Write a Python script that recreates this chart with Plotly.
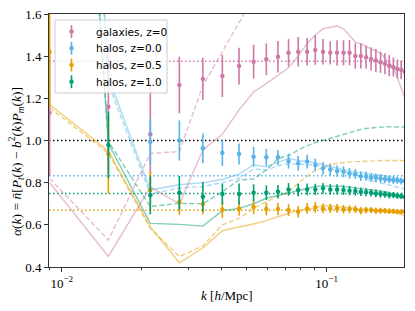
import plotly.graph_objects as go

# ---------------- data ----------------
k = [0.0090, 0.0150, 0.0216, 0.0278, 0.0341, 0.0404, 0.0467, 0.0530, 0.0592, 0.0655,
     0.0718, 0.0781, 0.0844, 0.0906, 0.0969, 0.1032, 0.1095, 0.1158, 0.1220, 0.1283,
     0.1346, 0.1409, 0.1472, 0.1534, 0.1597, 0.1660, 0.1723, 0.1786, 0.1848, 0.1911, 0.1974]

labels = ["galaxies, z=0", "halos, z=0.0", "halos, z=0.5", "halos, z=1.0"]

gal = [1.132, 1.16, 1.03, 1.263, 1.292, 1.306, 1.353, 1.374, 1.385, 1.397,
       1.416, 1.421, 1.421, 1.429, 1.421, 1.416, 1.416, 1.416, 1.416, 1.401,
       1.401, 1.395, 1.387, 1.379, 1.371, 1.364, 1.355, 1.348, 1.339, 1.335, 1.326]
gal_err = [0.30, 0.30, 0.24, 0.134, 0.10, 0.10, 0.087, 0.08, 0.075, 0.075,
           0.065, 0.07, 0.065, 0.07, 0.06, 0.055, 0.06, 0.06, 0.06, 0.06,
           0.06, 0.055, 0.055, 0.055, 0.05, 0.05, 0.05, 0.045, 0.045, 0.045, 0.045]

h00 = [3.5, 2.2, 0.994, 1.0, 0.963, 0.942, 0.936, 0.923, 0.92, 0.92,
       0.902, 0.892, 0.90, 0.884, 0.868, 0.863, 0.855, 0.852, 0.844, 0.841,
       0.831, 0.831, 0.825, 0.823, 0.82, 0.817, 0.815, 0.812, 0.812, 0.808, 0.808]
h00_err = [0.8, 0.4, 0.11, 0.095, 0.07, 0.063, 0.05, 0.047, 0.04, 0.035,
           0.035, 0.035, 0.033, 0.03, 0.03, 0.028, 0.027, 0.026, 0.025, 0.024,
           0.023, 0.022, 0.021, 0.02, 0.02, 0.019, 0.018, 0.018, 0.017, 0.017, 0.016]

h05 = [1.42, 0.936, 0.765, 0.707, 0.699, 0.673, 0.678, 0.685, 0.675, 0.675,
       0.67, 0.662, 0.678, 0.683, 0.678, 0.678, 0.678, 0.674, 0.674, 0.674,
       0.667, 0.67, 0.67, 0.667, 0.667, 0.667, 0.665, 0.665, 0.662, 0.662, 0.662]
h05_err = [0.26, 0.187, 0.09, 0.06, 0.05, 0.04, 0.035, 0.035, 0.03, 0.03,
           0.028, 0.027, 0.026, 0.025, 0.023, 0.022, 0.021, 0.02, 0.019, 0.018,
           0.017, 0.016, 0.015, 0.015, 0.014, 0.013, 0.013, 0.012, 0.012, 0.011, 0.011]

h10 = [3.0, 0.979, 0.74, 0.752, 0.733, 0.746, 0.746, 0.752, 0.752, 0.757,
       0.768, 0.765, 0.768, 0.768, 0.773, 0.768, 0.768, 0.765, 0.762, 0.76,
       0.757, 0.754, 0.752, 0.749, 0.746, 0.745, 0.741, 0.741, 0.738, 0.736, 0.733]
h10_err = [0.6, 0.158, 0.09, 0.08, 0.07, 0.05, 0.05, 0.04, 0.035, 0.032,
           0.03, 0.03, 0.028, 0.027, 0.026, 0.025, 0.024, 0.023, 0.022, 0.021,
           0.02, 0.019, 0.018, 0.018, 0.017, 0.016, 0.016, 0.015, 0.015, 0.014, 0.014]

gal_solid = [0.80, 0.45, 0.78, 0.70, 0.955, 1.03, 1.145, 1.23, 1.27, 1.31,
             1.345, 1.40, 1.46, 1.50, 1.53, 1.537, 1.543, 1.53, 1.50, 1.467,
             1.458, 1.448, 1.434, 1.424, 1.415, 1.39, 1.37, 1.345, 1.30, 1.25, 1.20]
gal_dashed = [0.82, 0.528, 0.939, 0.947, 1.26, 1.42, 1.553, 1.68, 1.75, 1.80,
              1.85, 1.88, 1.90, 1.92, 1.93, 1.94, 1.95, 1.95, 1.95, 1.95,
              1.95, 1.95, 1.95, 1.95, 1.95, 1.95, 1.95, 1.95, 1.95, 1.95, 1.95]

h00_solid = [6.0, 1.30, 0.765, 0.79, 0.80, 0.815, 0.84, 0.885, 0.875, 0.895,
             0.915, 0.905, 0.90, 0.895, 0.885, 0.878, 0.87, 0.862, 0.856, 0.85,
             0.846, 0.843, 0.84, 0.838, 0.836, 0.833, 0.83, 0.825, 0.82, 0.815, 0.81]
h00_dashed = [5.8, 1.27, 0.745, 0.775, 0.782, 0.80, 0.82, 0.865, 0.86, 0.88,
              0.89, 0.888, 0.886, 0.884, 0.877, 0.868, 0.862, 0.853, 0.845, 0.838,
              0.83, 0.82, 0.81, 0.805, 0.80, 0.795, 0.79, 0.785, 0.78, 0.775, 0.77]

h05_solid = [1.17, 0.95, 0.59, 0.42, 0.49, 0.572, 0.59, 0.604, 0.62, 0.64,
             0.655, 0.67, 0.675, 0.68, 0.693, 0.69, 0.689, 0.686, 0.682, 0.678,
             0.675, 0.672, 0.67, 0.668, 0.666, 0.664, 0.662, 0.66, 0.656, 0.648, 0.64]
h05_dashed = [1.155, 0.94, 0.583, 0.449, 0.50, 0.60, 0.631, 0.678, 0.71, 0.735,
              0.757, 0.797, 0.83, 0.86, 0.87, 0.885, 0.892, 0.896, 0.899, 0.90,
              0.90, 0.902, 0.903, 0.904, 0.905, 0.905, 0.905, 0.905, 0.905, 0.905, 0.905]

h10_solid = [5.0, 0.985, 0.607, 0.602, 0.594, 0.667, 0.678, 0.70, 0.726, 0.74,
             0.75, 0.765, 0.775, 0.782, 0.785, 0.785, 0.784, 0.782, 0.779, 0.776,
             0.773, 0.77, 0.767, 0.764, 0.76, 0.757, 0.753, 0.748, 0.742, 0.735, 0.728]
h10_dashed = [5.2, 0.995, 0.687, 0.702, 0.70, 0.757, 0.813, 0.817, 0.86, 0.915,
              0.928, 0.955, 0.975, 0.99, 1.0, 1.01, 1.02, 1.03, 1.04, 1.048,
              1.053, 1.057, 1.06, 1.062, 1.064, 1.065, 1.065, 1.065, 1.064, 1.064, 1.064]

levels = [1.376, 0.833, 0.669, 0.749]   # dotted reference levels per tracer
unity = 1.0

yticks = [0.4, 0.6, 0.8, 1.0, 1.2, 1.4, 1.6]
xticks = [0.01, 0.1]
xticklabels = ["10<sup>\u22122</sup>", "10<sup>\u22121</sup>"]
xminor = [0.009, 0.02, 0.03, 0.04, 0.05, 0.06, 0.07, 0.08, 0.09, 0.2]

# ---------------- styling / layout ----------------
W, H = 415, 311
ML, MR, MT, MB = 49, 11, 14, 44
PW, PH = W - ML - MR, H - MT - MB


def px(xp):
    return (xp - ML) / PW


def py(yp):
    return (H - MB - yp) / PH


colors = ["#CC79A7", "#56B4E9", "#E69F00", "#009E73"]
light = ["rgba(204,121,167,0.5)", "rgba(86,180,233,0.5)",
         "rgba(230,159,0,0.5)", "rgba(0,158,115,0.5)"]

series = [gal, h00, h05, h10]
errs = [gal_err, h00_err, h05_err, h10_err]
solids = [gal_solid, h00_solid, h05_solid, h10_solid]
dashes = [gal_dashed, h00_dashed, h05_dashed, h10_dashed]

fig = go.Figure()

for i in range(4):
    fig.add_trace(go.Scatter(x=k, y=solids[i], mode="lines", showlegend=False,
                             line=dict(color=light[i], width=1.4), hoverinfo="skip"))
    fig.add_trace(go.Scatter(x=k, y=dashes[i], mode="lines", showlegend=False,
                             line=dict(color=light[i], width=1.4, dash="5px,2.5px"),
                             hoverinfo="skip"))

for i in range(4):
    fig.add_trace(go.Scatter(
        x=k, y=series[i], mode="markers", name=labels[i], showlegend=False,
        marker=dict(color=colors[i], size=4.5, symbol="circle"),
        error_y=dict(type="data", array=errs[i], visible=True,
                     color=colors[i], thickness=1.6, width=0)))

shapes = []
for lv, c in zip(levels + [unity], colors + ["black"]):
    shapes.append(dict(type="line", xref="x domain", yref="y", x0=0, x1=1,
                       y0=lv, y1=lv, layer="below",
                       line=dict(color=c, width=1.5, dash="1.5px,2.5px")))

# legend box (drawn like matplotlib's: marker with error bar + label)
shapes.append(dict(type="rect", xref="paper", yref="paper",
                   x0=px(55), x1=px(167), y0=py(93), y1=py(20), layer="above",
                   fillcolor="rgba(255,255,255,0.8)",
                   line=dict(color="#cccccc", width=1)))
annotations = []
rows = [31.5, 48.3, 65.0, 81.7]
for i, yr in enumerate(rows):
    shapes.append(dict(type="line", xref="paper", yref="paper",
                       x0=px(71.5), x1=px(71.5), y0=py(yr + 6.5), y1=py(yr - 6.5),
                       layer="above", line=dict(color=colors[i], width=1.6)))
    shapes.append(dict(type="circle", xref="paper", yref="paper",
                       x0=px(69.5), x1=px(73.5), y0=py(yr + 2), y1=py(yr - 2),
                       layer="above", fillcolor=colors[i],
                       line=dict(color=colors[i], width=0.5)))
    annotations.append(dict(text=labels[i], xref="paper", yref="paper",
                            x=px(94), y=py(yr), xanchor="left", yanchor="middle",
                            showarrow=False,
                            font=dict(family="DejaVu Sans", size=10.5, color="black")))

annotations.append(dict(
    text="<i>\u03b1</i>(<i>k</i>) = <i>n\u0304</i>[<i>P</i><sub><i>t</i></sub>(<i>k</i>) \u2212 "
         "<i>b</i><sup>2</sup>(<i>k</i>)<i>P</i><sub><i>m</i></sub>(<i>k</i>)]",
    xref="paper", yref="paper", x=px(16), y=py(162), textangle=-90,
    showarrow=False, font=dict(family="Liberation Serif", size=13.5),
    xanchor="center", yanchor="middle"))
annotations.append(dict(
    text="<i>k</i> [<i>h</i>/Mpc]", xref="paper", yref="paper",
    x=px(227), y=py(295), showarrow=False, xanchor="center", yanchor="middle",
    font=dict(family="Liberation Serif", size=13)))

fig.update_layout(
    width=W, height=H,
    margin=dict(l=ML, r=MR, t=MT, b=MB, autoexpand=False),
    paper_bgcolor="white", plot_bgcolor="white",
    shapes=shapes, annotations=annotations, showlegend=False,
    font=dict(family="Liberation Serif", size=13, color="black"),
    xaxis=dict(type="log", range=[-2.048, -0.708], showgrid=False, zeroline=False,
               automargin=False,
               showline=True, mirror=True, linecolor="#333", linewidth=1,
               ticks="outside", ticklen=4, tickcolor="#333",
               tickvals=xticks, ticktext=xticklabels,
               tickfont=dict(family="Liberation Serif", size=13),
               minor=dict(tickvals=xminor, ticks="outside", ticklen=2, tickcolor="#333")),
    yaxis=dict(range=[0.4, 1.6], showgrid=False, zeroline=False,
               automargin=False,
               showline=True, mirror=True, linecolor="#333", linewidth=1,
               ticks="outside", ticklen=4, tickcolor="#333",
               tickvals=yticks, ticktext=[f"{v:.1f}" for v in yticks],
               tickfont=dict(family="Liberation Serif", size=13)),
)

fig.write_html("out.html", config={"displayModeBar": False, "staticPlot": True},
               post_script="document.body.style.margin='0';")
